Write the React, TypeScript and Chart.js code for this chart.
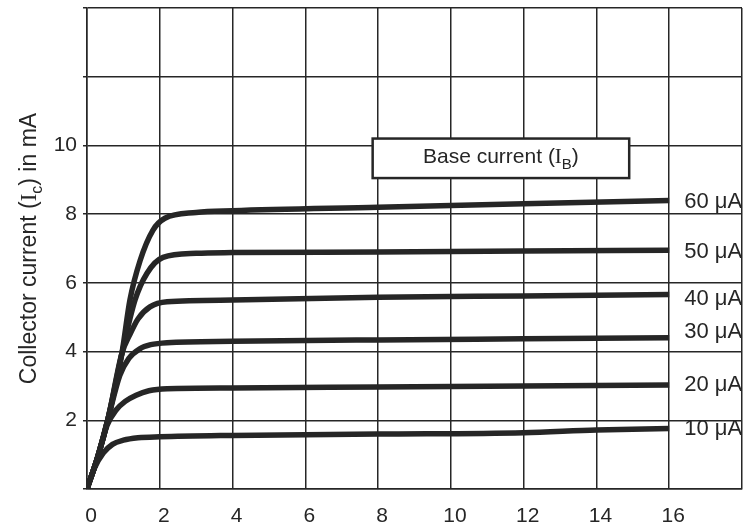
import React, { useEffect, useRef } from "react";
import { Chart, registerables } from "chart.js";

Chart.register(...registerables);

// Collector-emitter voltage (V) and collector current (mA) for each base current
const seriesLabels = ["10 μA", "20 μA", "30 μA", "40 μA", "50 μA", "60 μA"];

const vce10 = [0, 0.2, 0.45, 0.7, 1.0, 1.4, 2, 4, 8, 12, 14, 16];
const ic10 = [0, 0.6, 1.05, 1.3, 1.42, 1.49, 1.52, 1.56, 1.6, 1.64, 1.72, 1.76];

const vce20 = [0, 0.3, 0.55, 0.8, 1.05, 1.35, 1.7, 2.2, 4, 8, 12, 16];
const ic20 = [0, 0.95, 1.85, 2.3, 2.55, 2.73, 2.86, 2.92, 2.94, 2.97, 3.0, 3.03];

const vce30 = [0, 0.3, 0.58, 0.9, 1.15, 1.45, 1.75, 2.2, 4, 8, 12, 16];
const ic30 = [0, 0.95, 2.05, 3.3, 3.8, 4.08, 4.2, 4.26, 4.3, 4.34, 4.37, 4.4];

const vce40 = [0, 0.3, 0.58, 0.96, 1.18, 1.4, 1.73, 2.2, 4, 8, 12, 16];
const ic40 = [0, 0.95, 2.05, 3.95, 4.5, 4.95, 5.3, 5.45, 5.5, 5.58, 5.62, 5.66];

const vce50 = [0, 0.3, 0.58, 0.96, 1.32, 1.65, 2.09, 3, 4, 8, 12, 16];
const ic50 = [0, 0.95, 2.05, 3.95, 5.5, 6.28, 6.74, 6.86, 6.88, 6.9, 6.93, 6.95];

const vce60 = [0, 0.3, 0.58, 0.96, 1.18, 1.46, 1.81, 2.14, 3, 4, 8, 12, 16];
const ic60 = [0, 0.95, 2.05, 3.95, 5.5, 6.65, 7.53, 7.88, 8.05, 8.1, 8.2, 8.3, 8.4];

// where each curve's label sits (mA), next to the curve end
const labelIc = [1.76, 3.03, 4.57, 5.52, 6.9, 8.35];

const xTicks = [0, 2, 4, 6, 8, 10, 12, 14, 16, 18];
const yTickLabels = ["", "2", "4", "6", "8", "10", "", ""];

const seriesX = [vce10, vce20, vce30, vce40, vce50, vce60];
const seriesY = [ic10, ic20, ic30, ic40, ic50, ic60];

const INK = "#262626";
const FONT = "'Liberation Sans', Arial, sans-serif";

function drawSubText(
  ctx: CanvasRenderingContext2D,
  parts: { t: string; sub?: boolean; serif?: boolean }[],
  x: number,
  y: number,
  size: number,
  align: "left" | "center"
) {
  const fontFor = (p: { sub?: boolean; serif?: boolean }) =>
    `${p.sub ? Math.round(size * 0.7) : size}px ${p.serif ? "'Liberation Serif', serif" : FONT}`;
  let total = 0;
  for (const p of parts) {
    ctx.font = fontFor(p);
    total += ctx.measureText(p.t).width;
  }
  let cx = align === "center" ? x - total / 2 : x;
  ctx.textBaseline = "middle";
  ctx.textAlign = "left";
  for (const p of parts) {
    ctx.font = fontFor(p);
    ctx.fillText(p.t, cx, p.sub ? y + size * 0.35 : y);
    cx += ctx.measureText(p.t).width;
  }
}

const annotationsPlugin = {
  id: "annotations",
  afterDatasetsDraw(chart: any) {
    const { ctx, scales } = chart;
    const xs = scales.x;
    const ys = scales.y;
    ctx.save();
    ctx.fillStyle = INK;

    // curve labels
    ctx.font = `22px ${FONT}`;
    ctx.textAlign = "left";
    ctx.textBaseline = "middle";
    seriesLabels.forEach((lab, i) => {
      ctx.fillText(lab, xs.getPixelForValue(16) + 15, ys.getPixelForValue(labelIc[i]));
    });

    // legend box
    const bx1 = xs.getPixelForValue(7.85);
    const bx2 = xs.getPixelForValue(14.9);
    const by1 = ys.getPixelForValue(10.2);
    const by2 = ys.getPixelForValue(9.05);
    ctx.fillStyle = "#ffffff";
    ctx.fillRect(bx1, by1, bx2 - bx1, by2 - by1);
    ctx.strokeStyle = INK;
    ctx.lineWidth = 2.5;
    ctx.strokeRect(bx1, by1, bx2 - bx1, by2 - by1);
    ctx.fillStyle = INK;
    drawSubText(
      ctx,
      [{ t: "Base current (" }, { t: "I", serif: true }, { t: "B", sub: true }, { t: ")" }],
      (bx1 + bx2) / 2,
      (by1 + by2) / 2 - 1,
      21,
      "center"
    );

    // y-axis title
    ctx.translate(30, (chart.chartArea.top + chart.chartArea.bottom) / 2);
    ctx.rotate(-Math.PI / 2);
    drawSubText(
      ctx,
      [
        { t: "Collector current (" },
        { t: "I", serif: true },
        { t: "c", sub: true },
        { t: ") in mA" },
      ],
      0,
      0,
      23,
      "center"
    );
    ctx.restore();
  },
};

export default function App() {
  const ref = useRef<HTMLCanvasElement | null>(null);

  useEffect(() => {
    if (!ref.current) return;
    const datasets = seriesX.map((xs, i) => ({
      label: seriesLabels[i],
      data: xs.map((x, j) => ({ x, y: seriesY[i][j] })),
      borderColor: INK,
      borderWidth: 5.5,
      pointRadius: 0,
      fill: false,
      cubicInterpolationMode: "monotone" as const,
      borderCapStyle: "butt" as const,
      borderJoinStyle: "round" as const,
    }));

    const chart = new Chart(ref.current, {
      type: "line",
      data: { datasets },
      plugins: [annotationsPlugin],
      options: {
        animation: false,
        responsive: false,
        layout: { padding: { top: 8, right: 1, left: 0, bottom: 0 } },
        plugins: { legend: { display: false }, tooltip: { enabled: false } },
        scales: {
          x: {
            type: "linear",
            min: 0,
            max: 18,
            afterFit: (s: any) => {
              s.height = 40;
              s.paddingLeft = 0;
              s.paddingRight = 0;
            },
            afterBuildTicks: (s: any) => {
              s.ticks = xTicks.map((v) => ({ value: v }));
            },
            grid: { color: INK, lineWidth: 1.5, drawTicks: false },
            border: { color: INK, width: 1.5 },
            ticks: {
              color: INK,
              font: { size: 21, family: FONT },
              padding: 15,
              labelOffset: 4,
              maxRotation: 0,
              callback: (v: any) => (Number(v) === 18 ? "" : String(v)),
            },
          },
          y: {
            type: "linear",
            min: 0,
            max: 14,
            afterFit: (s: any) => {
              s.width = 87;
              s.paddingTop = 0;
              s.paddingBottom = 0;
            },
            grid: { color: INK, lineWidth: 1.5, tickLength: 4 },
            border: { color: INK, width: 1.5 },
            ticks: {
              stepSize: 2,
              color: INK,
              font: { size: 21, family: FONT },
              padding: 6,
              callback: (v: any, i: number) => yTickLabels[i] ?? "",
            },
          },
        },
      },
    });
    return () => chart.destroy();
  }, []);

  return (
    <div style={{ position: "fixed", left: 0, top: 0, width: 743, height: 529, background: "#fff" }}>
      <canvas ref={ref} width={743} height={529} style={{ width: 743, height: 529 }} />
    </div>
  );
}
